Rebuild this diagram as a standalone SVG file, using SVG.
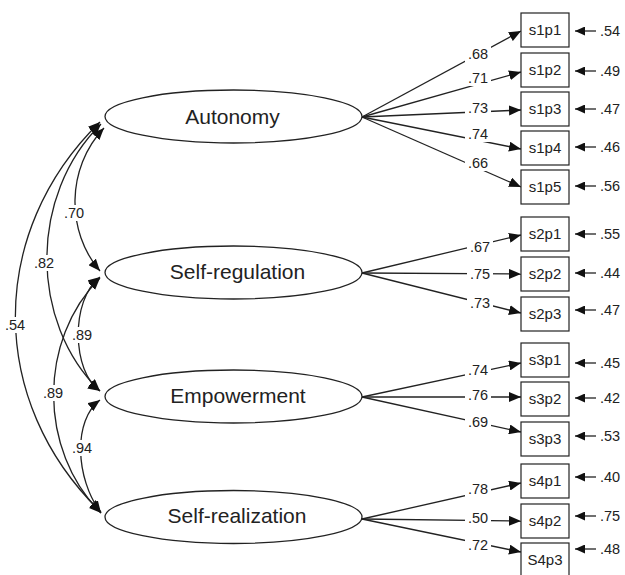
<svg xmlns="http://www.w3.org/2000/svg" width="625" height="575" viewBox="0 0 625 575">
<style>
.lat{fill:#fff;stroke:#222;stroke-width:1.3}
.box{fill:#fff;stroke:#222;stroke-width:1.2}
.ln{fill:none;stroke:#222;stroke-width:1.3}
.big{font-family:"Liberation Sans",Arial,sans-serif;font-size:21px;fill:#222;text-anchor:middle}
.sm{font-family:"Liberation Sans",Arial,sans-serif;font-size:15px;fill:#222;text-anchor:middle}
.lb{font-family:"Liberation Sans",Arial,sans-serif;font-size:14.5px;fill:#222;text-anchor:middle}
.el{font-family:"Liberation Sans",Arial,sans-serif;font-size:14.5px;fill:#222}
.bg{fill:#fff;stroke:none}
</style>
<defs>
<marker id="ah" markerUnits="userSpaceOnUse" markerWidth="13" markerHeight="10" refX="12" refY="5" orient="auto-start-reverse" viewBox="0 0 13 10"><path d="M0,0 L12,5 L0,10 Z" fill="#111"/></marker>
<marker id="ae" markerUnits="userSpaceOnUse" markerWidth="11" markerHeight="9" refX="10" refY="4.5" orient="auto" viewBox="0 0 11 9"><path d="M0,0 L10,4.5 L0,9 Z" fill="#111"/></marker>
</defs>
<rect width="625" height="575" fill="#fff"/>
<g id="connectors">
<g id="covariances" class="ln">
<path d="M100,122 C -13,232 -13,402 101,512" marker-start="url(#ah)" marker-end="url(#ah)"/>
<path d="M101,124 C 29,195 29,322 100,391" marker-start="url(#ah)" marker-end="url(#ah)"/>
<path d="M104,128 C 66,168 66,232 100,271" marker-start="url(#ah)" marker-end="url(#ah)"/>
<path d="M100,277 C 70,300 72,372 100,391" marker-start="url(#ah)" marker-end="url(#ah)"/>
<path d="M100,278 C 38,340 38,450 101,513" marker-start="url(#ah)" marker-end="url(#ah)"/>
<path d="M100,400 C 73,420 75,478 101,513" marker-start="url(#ah)" marker-end="url(#ah)"/>
</g>
<g id="loadings" class="ln" marker-end="url(#ah)">
<line x1="362" y1="117" x2="521" y2="31"/>
<line x1="362" y1="117" x2="521" y2="72"/>
<line x1="362" y1="117" x2="521" y2="110"/>
<line x1="362" y1="117" x2="521" y2="149"/>
<line x1="362" y1="117" x2="521" y2="187"/>
<line x1="362" y1="273" x2="521" y2="235"/>
<line x1="362" y1="273" x2="521" y2="274"/>
<line x1="362" y1="273" x2="521" y2="313"/>
<line x1="362" y1="397" x2="521" y2="363"/>
<line x1="362" y1="397" x2="521" y2="397"/>
<line x1="362" y1="397" x2="521" y2="432"/>
<line x1="362" y1="519" x2="521" y2="483"/>
<line x1="362" y1="519" x2="521" y2="521"/>
<line x1="362" y1="519" x2="521" y2="552"/>
</g>
<g id="errors" class="ln" marker-end="url(#ae)">
<line x1="596" y1="31" x2="575" y2="31"/>
<line x1="596" y1="71" x2="575" y2="71"/>
<line x1="596" y1="109" x2="575" y2="109"/>
<line x1="596" y1="147" x2="575" y2="147"/>
<line x1="596" y1="186" x2="575" y2="186"/>
<line x1="596" y1="234" x2="575" y2="234"/>
<line x1="596" y1="273" x2="575" y2="273"/>
<line x1="596" y1="310" x2="575" y2="310"/>
<line x1="596" y1="363" x2="575" y2="363"/>
<line x1="596" y1="398" x2="575" y2="398"/>
<line x1="596" y1="436" x2="575" y2="436"/>
<line x1="596" y1="477" x2="575" y2="477"/>
<line x1="596" y1="516" x2="575" y2="516"/>
<line x1="596" y1="549" x2="575" y2="549"/>
</g>
<g id="label-bg" class="bg">
<rect x="62" y="205" width="25" height="16"/>
<rect x="32" y="255" width="25" height="16"/>
<rect x="3" y="317" width="25" height="16"/>
<rect x="70" y="327" width="25" height="16"/>
<rect x="41" y="385" width="25" height="16"/>
<rect x="70" y="440" width="25" height="16"/>
<rect x="465" y="46" width="26" height="16"/>
<rect x="465" y="70" width="26" height="16"/>
<rect x="465" y="100" width="26" height="16"/>
<rect x="465" y="126" width="26" height="16"/>
<rect x="465" y="155" width="26" height="16"/>
<rect x="467" y="239" width="26" height="16"/>
<rect x="467" y="266" width="26" height="16"/>
<rect x="467" y="295" width="26" height="16"/>
<rect x="465" y="362" width="26" height="16"/>
<rect x="465" y="387" width="26" height="16"/>
<rect x="465" y="414" width="26" height="16"/>
<rect x="465" y="481" width="26" height="16"/>
<rect x="465" y="510" width="26" height="16"/>
<rect x="465" y="537" width="26" height="16"/>
</g>
<g id="labels" class="lb">
<text x="74" y="218">.70</text>
<text x="44" y="268">.82</text>
<text x="15" y="330">.54</text>
<text x="82" y="340">.89</text>
<text x="53" y="398">.89</text>
<text x="82" y="453">.94</text>
<text x="478" y="59">.68</text>
<text x="478" y="83">.71</text>
<text x="478" y="113">.73</text>
<text x="478" y="139">.74</text>
<text x="478" y="168">.66</text>
<text x="480" y="252">.67</text>
<text x="480" y="279">.75</text>
<text x="480" y="308">.73</text>
<text x="478" y="375">.74</text>
<text x="478" y="400">.76</text>
<text x="478" y="427">.69</text>
<text x="478" y="494">.78</text>
<text x="478" y="523">.50</text>
<text x="478" y="550">.72</text>
</g>
<g id="error-labels" class="el">
<text x="600" y="36">.54</text>
<text x="600" y="76">.49</text>
<text x="600" y="114">.47</text>
<text x="600" y="152">.46</text>
<text x="600" y="191">.56</text>
<text x="600" y="239">.55</text>
<text x="600" y="278">.44</text>
<text x="600" y="315">.47</text>
<text x="600" y="368">.45</text>
<text x="600" y="403">.42</text>
<text x="600" y="441">.53</text>
<text x="600" y="482">.40</text>
<text x="600" y="521">.75</text>
<text x="600" y="554">.48</text>
</g>
</g>
<g id="Autonomy"><ellipse class="lat" cx="233.5" cy="116.5" rx="128.5" ry="26.5"/><text class="big" x="232.5" y="123.5">Autonomy</text></g>
<g id="Self-regulation"><ellipse class="lat" cx="233.5" cy="272.5" rx="128.5" ry="26.5"/><text class="big" x="237.5" y="278.5">Self-regulation</text></g>
<g id="Empowerment"><ellipse class="lat" cx="233.5" cy="396.5" rx="128.5" ry="26.5"/><text class="big" x="238" y="402.5">Empowerment</text></g>
<g id="Self-realization"><ellipse class="lat" cx="233.5" cy="517" rx="128.5" ry="26.5"/><text class="big" x="237" y="522.5">Self-realization</text></g>
<g id="s1p1"><rect class="box" x="521" y="13" width="48" height="34"/><text class="sm" x="545" y="35">s1p1</text></g>
<g id="s1p2"><rect class="box" x="521" y="53" width="48" height="34"/><text class="sm" x="545" y="75">s1p2</text></g>
<g id="s1p3"><rect class="box" x="521" y="92" width="48" height="34"/><text class="sm" x="545" y="114">s1p3</text></g>
<g id="s1p4"><rect class="box" x="521" y="131" width="48" height="34"/><text class="sm" x="545" y="153">s1p4</text></g>
<g id="s1p5"><rect class="box" x="521" y="170" width="48" height="34"/><text class="sm" x="545" y="192">s1p5</text></g>
<g id="s2p1"><rect class="box" x="521" y="217" width="48" height="34"/><text class="sm" x="545" y="239">s2p1</text></g>
<g id="s2p2"><rect class="box" x="521" y="257" width="48" height="34"/><text class="sm" x="545" y="279">s2p2</text></g>
<g id="s2p3"><rect class="box" x="521" y="297" width="48" height="34"/><text class="sm" x="545" y="319">s2p3</text></g>
<g id="s3p1"><rect class="box" x="521" y="343" width="48" height="34"/><text class="sm" x="545" y="365">s3p1</text></g>
<g id="s3p2"><rect class="box" x="521" y="382" width="48" height="34"/><text class="sm" x="545" y="404">s3p2</text></g>
<g id="s3p3"><rect class="box" x="521" y="422" width="48" height="34"/><text class="sm" x="545" y="444">s3p3</text></g>
<g id="s4p1"><rect class="box" x="521" y="464" width="48" height="34"/><text class="sm" x="545" y="486">s4p1</text></g>
<g id="s4p2"><rect class="box" x="521" y="504" width="48" height="34"/><text class="sm" x="545" y="526">s4p2</text></g>
<g id="S4p3"><rect class="box" x="521" y="543" width="48" height="34"/><text class="sm" x="545" y="565">S4p3</text></g>
</svg>
